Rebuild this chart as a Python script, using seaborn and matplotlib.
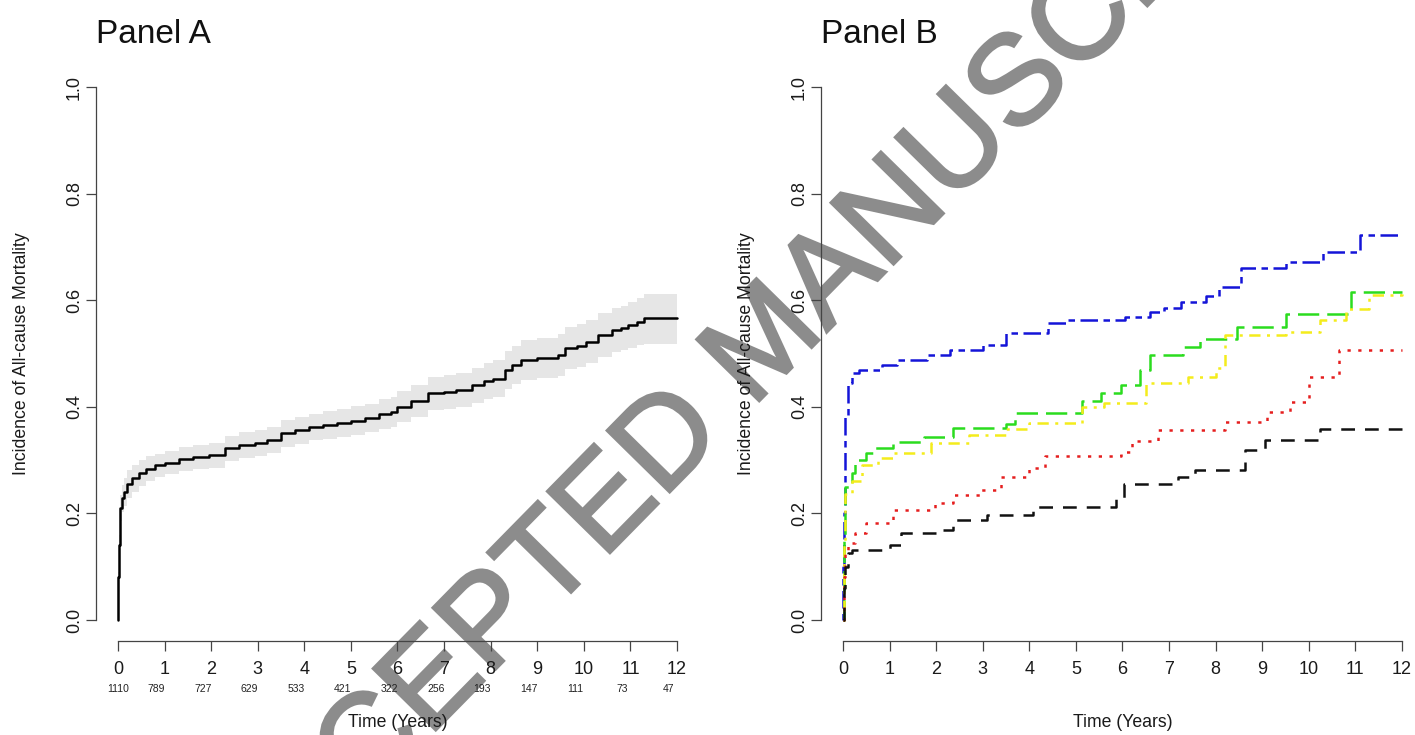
import numpy as np
import pandas as pd
import seaborn as sns
import matplotlib.pyplot as plt
import matplotlib.patheffects as pe


# Panel A: overall cumulative incidence of all-cause mortality with 95% CI band
time_a = [0, 0.01, 0.02, 0.035, 0.05, 0.08, 0.12, 0.2, 0.3, 0.45, 0.6, 0.8, 1.0, 1.3, 1.6,
          1.95, 2.3, 2.6, 2.95, 3.2, 3.5, 3.8, 4.1, 4.4, 4.7, 5.0, 5.3, 5.6, 5.85, 6.0, 6.3,
          6.65, 7.0, 7.25, 7.6, 7.85, 8.05, 8.3, 8.45, 8.65, 9.0, 9.45, 9.6, 9.85, 10.05,
          10.3, 10.6, 10.8, 10.95, 11.15, 11.3, 12.0]
incidence_a = [0, 0.08, 0.14, 0.18, 0.21, 0.228, 0.24, 0.255, 0.266, 0.276, 0.284, 0.29,
               0.295, 0.302, 0.306, 0.309, 0.322, 0.328, 0.332, 0.338, 0.35, 0.356, 0.362,
               0.366, 0.37, 0.374, 0.379, 0.386, 0.391, 0.4, 0.41, 0.425, 0.428, 0.431, 0.44,
               0.448, 0.453, 0.469, 0.478, 0.488, 0.492, 0.497, 0.51, 0.515, 0.522, 0.535,
               0.544, 0.548, 0.553, 0.56, 0.566, 0.566]
lower_a = [0, 0.07, 0.12, 0.16, 0.185, 0.203, 0.214, 0.229, 0.241, 0.252, 0.261, 0.268,
           0.273, 0.28, 0.284, 0.286, 0.299, 0.304, 0.308, 0.314, 0.325, 0.331, 0.337,
           0.34, 0.344, 0.347, 0.352, 0.358, 0.363, 0.371, 0.38, 0.394, 0.396, 0.399, 0.407,
           0.414, 0.418, 0.433, 0.442, 0.451, 0.454, 0.458, 0.471, 0.475, 0.482, 0.494,
           0.502, 0.506, 0.51, 0.516, 0.517, 0.517]
upper_a = [0, 0.09, 0.16, 0.2, 0.235, 0.254, 0.267, 0.281, 0.291, 0.3, 0.307, 0.312,
           0.317, 0.324, 0.328, 0.332, 0.345, 0.352, 0.356, 0.362, 0.375, 0.381, 0.387,
           0.392, 0.396, 0.401, 0.406, 0.414, 0.419, 0.429, 0.44, 0.456, 0.46, 0.463, 0.473,
           0.482, 0.488, 0.505, 0.514, 0.525, 0.53, 0.536, 0.549, 0.555, 0.562, 0.576,
           0.586, 0.59, 0.596, 0.604, 0.611, 0.611]

# numbers at risk under the Panel A axis
risk_years = list(range(13))
at_risk = [1110, 789, 727, 629, 533, 421, 322, 256, 193, 147, 111, 73, 47]

# Panel B: cumulative incidence by group
time_blue = [0, 0.01, 0.02, 0.035, 0.05, 0.1, 0.2, 0.34, 0.84, 1.16, 1.8, 2.3, 3.0, 3.5,
             4.4, 4.8, 6.05, 6.6, 6.9, 7.25, 7.8, 8.07, 8.55, 9.5, 10.3, 11.1, 12.0]
inc_blue = [0, 0.1, 0.2, 0.3, 0.38, 0.444, 0.463, 0.469, 0.478, 0.487, 0.497, 0.507, 0.516,
            0.538, 0.557, 0.563, 0.569, 0.578, 0.586, 0.597, 0.607, 0.625, 0.66, 0.672,
            0.691, 0.722, 0.722]

time_green = [0, 0.02, 0.05, 0.2, 0.26, 0.5, 0.67, 1.08, 1.73, 2.37, 3.5, 3.7, 5.14, 5.55,
              5.96, 6.37, 6.6, 7.3, 7.66, 8.46, 9.5, 10.9, 12.0]
inc_green = [0, 0.15, 0.25, 0.275, 0.3, 0.313, 0.322, 0.334, 0.344, 0.36, 0.368, 0.388,
             0.41, 0.425, 0.44, 0.469, 0.497, 0.513, 0.528, 0.55, 0.575, 0.616, 0.616]

time_yellow = [0, 0.02, 0.05, 0.2, 0.4, 0.75, 1.08, 1.9, 2.7, 3.5, 4.0, 5.14, 5.6, 6.5,
               7.4, 8.0, 8.2, 9.5, 10.25, 10.8, 11.3, 12.0]
inc_yellow = [0, 0.14, 0.237, 0.26, 0.29, 0.303, 0.313, 0.332, 0.347, 0.358, 0.369, 0.4,
              0.407, 0.444, 0.456, 0.472, 0.534, 0.54, 0.563, 0.584, 0.609, 0.611]

time_red = [0, 0.02, 0.04, 0.1, 0.26, 0.5, 1.08, 1.98, 2.37, 2.95, 3.4, 4.0, 4.34, 5.96,
            6.2, 6.76, 8.2, 9.1, 9.6, 10.0, 10.65, 12.0]
inc_red = [0, 0.08, 0.125, 0.144, 0.163, 0.182, 0.206, 0.219, 0.235, 0.244, 0.269, 0.285,
           0.307, 0.316, 0.335, 0.357, 0.372, 0.39, 0.409, 0.456, 0.506, 0.506]

time_black = [0, 0.02, 0.05, 0.1, 0.2, 1.0, 1.25, 2.05, 2.37, 3.1, 4.08, 5.87, 6.04, 7.2,
              7.55, 8.63, 9.05, 10.25, 12.0]
inc_black = [0, 0.06, 0.1, 0.125, 0.131, 0.14, 0.163, 0.169, 0.188, 0.197, 0.212, 0.228,
             0.256, 0.269, 0.281, 0.319, 0.337, 0.359, 0.359]

group_order = ['blue', 'green', 'yellow', 'red', 'black']
group_times = [time_blue, time_green, time_yellow, time_red, time_black]
group_values = [inc_blue, inc_green, inc_yellow, inc_red, inc_black]

y_ticks = [0.0, 0.2, 0.4, 0.6, 0.8, 1.0]
x_ticks = list(range(13))


##################
## STYLE / SIZE ##
##################

FIG_W, FIG_H = 1415, 735
sns.set_style('ticks')
plt.rcParams['font.family'] = ['Liberation Sans', 'DejaVu Sans']

palette = {'blue': '#1414D8', 'green': '#2BDC1E', 'yellow': '#F4EC1C',
           'red': '#E51E1E', 'black': '#111111'}
# R line types: twodash, longdash, dotdash, dotted, dashed
dashes = {'blue': (2.6, 2.2, 7.0, 2.2), 'green': (8.5, 3.2), 'yellow': (1.2, 2.6, 4.5, 2.6),
          'red': (1.3, 3.0), 'black': (5.5, 4.0)}

AXIS_COLOR = '#444444'
X_UNIT = 559 / 12.0            # pixels per year


def style_axis(ax, title, x_right):
    ax.set_facecolor('none')
    ax.set_xlim(-0.48, x_right)
    ax.set_ylim(-0.04, 1.04)
    ax.set_xticks(x_ticks)
    ax.set_yticks(y_ticks)
    ax.set_yticklabels([f'{v:.1f}' for v in y_ticks])
    for side in ['top', 'right']:
        ax.spines[side].set_visible(False)
    ax.spines['left'].set_bounds(0, 1)
    ax.spines['bottom'].set_bounds(0, 12)
    for side in ['left', 'bottom']:
        ax.spines[side].set_color(AXIS_COLOR)
        ax.spines[side].set_linewidth(0.9)
    ax.tick_params(axis='both', direction='out', length=7, width=0.9, color=AXIS_COLOR,
                   labelcolor='#1a1a1a')
    ax.tick_params(axis='x', labelsize=13, pad=7.5)
    ax.tick_params(axis='y', labelsize=13, pad=2, labelrotation=90)
    for lab in ax.get_yticklabels():
        lab.set_verticalalignment('center')
    ax.set_title(title, loc='left', fontsize=24, pad=16, color='#111111')

    width_px = ax.get_position().width * FIG_W
    ax.set_ylabel('Incidence of All-cause Mortality', fontsize=12.7, color='#1a1a1a')
    ax.yaxis.set_label_coords(-66 / width_px, 0.5)
    ax.set_xlabel('Time (Years)', fontsize=12.7, color='#1a1a1a')
    x_center = ((0.48 + 6) * X_UNIT) / width_px
    ax.xaxis.set_label_coords(x_center, -0.126)


fig = plt.figure(figsize=(FIG_W / 100, FIG_H / 100), dpi=100)
ax_a = fig.add_axes([95.6 / FIG_W, (FIG_H - 641.3) / FIG_H, 603.8 / FIG_W, 575.6 / FIG_H])
ax_b = fig.add_axes([820.6 / FIG_W, (FIG_H - 641.3) / FIG_H, 594.4 / FIG_W, 575.6 / FIG_H])

#############
## PANEL A ##
#############

ax_a.fill_between(time_a, lower_a, upper_a, step='post', color='#E6E6E6', lw=0, zorder=1)
sns.lineplot(x=time_a, y=incidence_a, color='black', drawstyle='steps-post', linewidth=1.8,
             estimator=None, ax=ax_a, zorder=2)
style_axis(ax_a, 'Panel A', 12.48)

for yr, n in zip(risk_years, at_risk):
    shift = 0 if yr == 0 else -6
    ax_a.annotate(str(n), xy=(yr, 0), xycoords=ax_a.get_xaxis_transform(),
                  xytext=(shift, -34.5), textcoords='offset points',
                  ha='center', va='center', fontsize=7.5, color='#222222')

#############
## PANEL B ##
#############

df_b = pd.concat([pd.DataFrame({'time': t, 'incidence': v, 'group': g})
                  for g, t, v in zip(group_order, group_times, group_values)],
                 ignore_index=True)
sns.lineplot(data=df_b, x='time', y='incidence', hue='group', style='group',
             hue_order=group_order, style_order=group_order, palette=palette, dashes=dashes,
             estimator=None, drawstyle='steps-post', linewidth=1.8, legend=False, ax=ax_b)
style_axis(ax_b, 'Panel B', -0.48 + 594.4 / X_UNIT)

# watermark behind the plots (regular face, slightly thickened)
WM_COLOR = '#8C8C8C'
fig.text(768 / FIG_W, 1 - 345 / FIG_H, 'ACCEPTED MANUSCRIPT', rotation=45.5,
         rotation_mode='anchor', ha='center', va='center', fontsize=92,
         color=WM_COLOR, zorder=-1,
         path_effects=[pe.withStroke(linewidth=2, foreground=WM_COLOR, joinstyle='miter')])

fig.savefig('out.png', dpi=100)
